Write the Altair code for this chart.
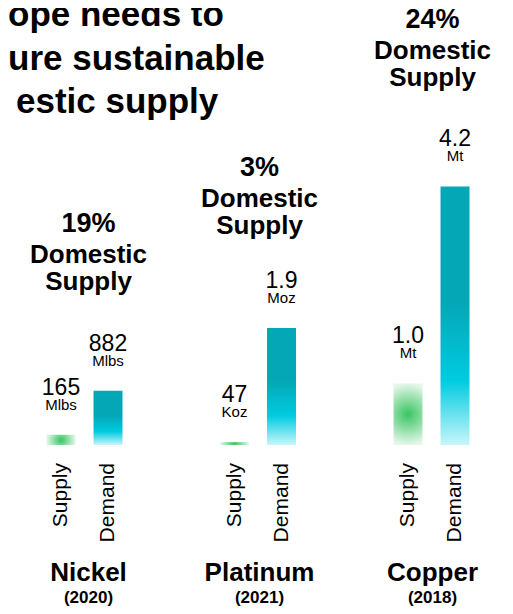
import altair as alt
import pandas as pd

# ---------------- data ----------------
metals = ["Nickel", "Platinum", "Copper"]
years = ["(2020)", "(2021)", "(2018)"]
domestic_share = ["19%", "3%", "24%"]
heading_words = ["Domestic", "Supply"]
flow_types = ["Supply", "Demand"]
supply_values = [165, 0.047, 1.0]
demand_values = [882, 1.9, 4.2]
supply_numbers = ["165", "47", "1.0"]
supply_units = ["Mlbs", "Koz", "Mt"]
demand_numbers = ["882", "1.9", "4.2"]
demand_units = ["Mlbs", "Moz", "Mt"]
title_lines = ["ope needs to", "ure sustainable", "estic supply"]

# per-panel value scale top (each metal has its own unit)
scale_max = [7100, 7.1, 7.1]

rows = []
for i, m in enumerate(metals):
    rows.append(dict(metal=m, type="Supply", value=supply_values[i],
                     number=supply_numbers[i], unit=supply_units[i],
                     share=domestic_share[i], year=years[i]))
    rows.append(dict(metal=m, type="Demand", value=demand_values[i],
                     number=demand_numbers[i], unit=demand_units[i],
                     share=domestic_share[i], year=years[i]))
df = pd.DataFrame(rows)
title_df = pd.DataFrame({"line": title_lines, "row": [0, 1, 2]})

# ---------------- style / layout ----------------
FONT = "Liberation Sans"
W, H = 497, 437
heading_dy = [-101, -94, -100]     # baseline of "Supply" line relative to demand bar top
center_dx = [4, 1.5, 1]
title_x = [0, 0, 8]
title_y = [18, 62, 105]

demand_fill = alt.LinearGradient(
    gradient="linear", x1=0, x2=0, y1=0, y2=1,
    stops=[alt.GradientStop(offset=0, color="#04A7B6"),
           alt.GradientStop(offset=0.45, color="#04A7B6"),
           alt.GradientStop(offset=0.75, color="#00CBE0"),
           alt.GradientStop(offset=1, color="#C8F6FB")])
supply_fill = alt.RadialGradient(
    gradient="radial", x1=0.5, y1=0.5, x2=0.5, y2=0.5, r1=0, r2=0.5,
    stops=[alt.GradientStop(offset=0, color="#38C563"),
           alt.GradientStop(offset=1, color="#E6F7E9")])

x_scale = alt.Scale(domain=metals, paddingInner=0.4582, paddingOuter=0.1614, align=0.527)
xo_scale = alt.Scale(domain=flow_types, paddingInner=0.383, paddingOuter=0.1915)
X = alt.X("metal:N", scale=x_scale, axis=None)
XO = alt.XOffset("type:N", scale=xo_scale)

layers = []
for i, m in enumerate(metals):
    Y = alt.Y("value:Q", scale=alt.Scale(domain=[0, scale_max[i]], nice=False, zero=True), axis=None)
    base = alt.Chart(df).transform_filter(alt.datum.metal == m)
    sup = base.transform_filter(alt.datum.type == "Supply")
    dem = base.transform_filter(alt.datum.type == "Demand")
    layers.append(sup.mark_bar(fill=supply_fill).encode(x=X, xOffset=XO, y=Y))
    layers.append(dem.mark_bar(fill=demand_fill).encode(x=X, xOffset=XO, y=Y))
    layers.append(base.mark_text(font=FONT, fontSize=23, dy=-40, baseline="alphabetic",
                                 color="#000000").encode(x=X, xOffset=XO, y=Y, text="number:N"))
    layers.append(base.mark_text(font=FONT, fontSize=15, dy=-25, baseline="alphabetic",
                                 color="#000000").encode(x=X, xOffset=XO, y=Y, text="unit:N"))
    hd = heading_dy[i]
    layers.append(dem.mark_text(font=FONT, fontSize=27, fontWeight="bold", dy=hd - 58,
                                dx=center_dx[i], baseline="alphabetic", color="#000000")
                  .encode(x=X, y=Y, text="share:N"))
    layers.append(dem.mark_text(font=FONT, fontSize=26, fontWeight="bold", dy=hd - 27,
                                dx=center_dx[i], baseline="alphabetic", color="#000000")
                  .encode(x=X, y=Y, text=alt.value(heading_words[0])))
    layers.append(dem.mark_text(font=FONT, fontSize=26, fontWeight="bold", dy=hd,
                                dx=center_dx[i], baseline="alphabetic", color="#000000")
                  .encode(x=X, y=Y, text=alt.value(heading_words[1])))
    layers.append(dem.mark_text(font=FONT, fontSize=26, fontWeight="bold", dx=center_dx[i],
                                baseline="alphabetic", color="#000000")
                  .encode(x=X, y=alt.value(573), text="metal:N"))
    layers.append(dem.mark_text(font=FONT, fontSize=17, fontWeight="bold", dx=center_dx[i],
                                baseline="alphabetic", color="#000000")
                  .encode(x=X, y=alt.value(595), text="year:N"))

# rotated category labels
layers.append(alt.Chart(df).mark_text(font=FONT, fontSize=21, angle=270, align="right",
                                      baseline="middle", color="#000000")
              .encode(x=X, xOffset=XO, y=alt.value(455), text="type:N"))

# title fragment
for r in range(3):
    layers.append(alt.Chart(title_df).transform_filter(alt.datum.row == r)
                  .mark_text(font=FONT, fontSize=35, fontWeight="bold", align="left",
                             baseline="alphabetic", color="#000000")
                  .encode(x=alt.value(title_x[r]), y=alt.value(title_y[r]), text="line:N"))

chart = (alt.layer(*layers)
         .resolve_scale(y="independent")
         .properties(width=W, height=H,
                     autosize=alt.AutoSizeParams(type="none"),
                     padding={"left": 0, "right": 0, "top": 0, "bottom": 169},
                     background="#ffffff")
         .configure_view(stroke=None))

chart.save("out.html", embed_options={"renderer": "svg", "actions": False})
